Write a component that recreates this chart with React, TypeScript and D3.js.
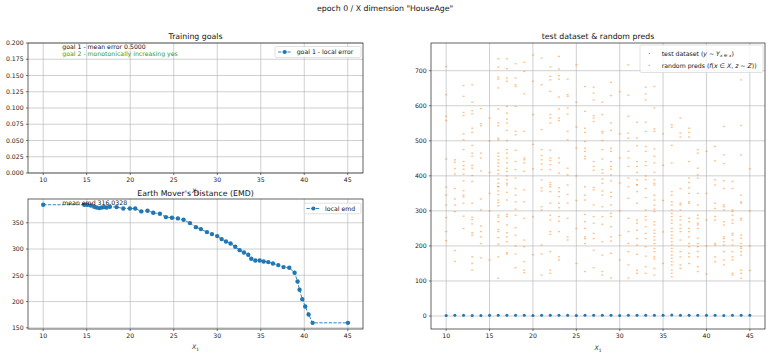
import React from 'react';
import * as d3 from 'd3';

const FONT = "'DejaVu Sans', sans-serif";
const BLUE = '#1f77b4';
const ORANGE = '#ff7f0e';

const xTicks = [10, 15, 20, 25, 30, 35, 40, 45];
const yTicksGoals = [0, 0.025, 0.05, 0.075, 0.1, 0.125, 0.15, 0.175, 0.2];
const yTicksEmd = [150, 200, 250, 300, 350];
const yTicksPreds = [0, 100, 200, 300, 400, 500, 600, 700];

const emdX = [10.0, 14.71, 15.06, 15.48, 15.86, 16.13, 16.44, 16.74, 17.01, 17.28, 17.66, 18.43, 19.2, 19.96, 20.57, 21.26, 21.99, 22.64, 23.41, 24.1, 24.79, 25.48, 26.13, 26.86, 27.55, 28.12, 28.81, 29.39, 30.0, 30.5, 31.0, 31.53, 32.07, 32.57, 33.07, 33.56, 33.91, 34.37, 34.87, 35.33, 35.86, 36.4, 37.01, 37.62, 38.28, 38.89, 39.23, 39.46, 39.77, 40.11, 40.5, 40.96, 45.02];
const emdY = [384.3, 384.3, 384, 383, 380.5, 379.2, 377.9, 379.2, 379.8, 379.2, 380.5, 379.8, 377.3, 377.3, 377.3, 371.6, 372.9, 369, 367.1, 360.8, 359.5, 358.3, 355.7, 349.4, 341.7, 337.9, 332.2, 328.4, 324.6, 318.9, 314.4, 310.6, 304.3, 297.9, 293.5, 289, 281.4, 278.3, 278.3, 276.3, 275.1, 272.5, 269.4, 265.6, 264.3, 254.8, 238.3, 222.4, 204.6, 190.6, 175.4, 159.5, 159.5];

const ages = [10, 11, 12, 13, 14, 15, 16, 17, 18, 19, 20, 21, 22, 23, 24, 25, 26, 27, 28, 29, 30, 31, 32, 33, 34, 35, 36, 37, 38, 39, 40, 41, 42, 43, 44, 45];
const testByAge = [1.8, 2.1, 1.9, 1.6, 1.7, 2.0, 2.2, 1.9, 2.1, 2.3, 1.8, 2.0, 1.9, 2.2, 2.1, 1.7, 2.4, 2.0, 1.9, 2.1, 1.8, 2.3, 2.2, 2.4, 2.5, 2.1, 2.6, 2.0, 2.1, 1.9, 2.4, 2.2, 1.8, 2.0, 2.3, 2.1];
const predsByAge = [
  [712, 632, 570, 558, 448, 368, 345, 317, 281, 241, 215],
  [446, 439, 421, 405, 364, 334, 317, 298, 187, 156],
  [658, 627, 581, 572, 520, 503, 475, 441, 429, 419, 405, 386, 358, 345, 340, 322, 285, 250],
  [660, 610, 586, 577, 536, 524, 487, 465, 456, 430, 422, 401, 384, 322, 282, 275, 263, 238, 231, 169, 150, 131],
  [592, 549, 543, 465, 451, 414, 334, 303, 257, 241, 226, 207, 166],
  [565, 500, 410, 350, 300, 160],
  [734, 710, 682, 676, 651, 591, 551, 543, 508, 503, 465, 456, 446, 437, 427, 416, 406, 391, 379, 370, 369, 357, 347, 331, 324, 315, 288, 282, 269, 247, 241, 224, 205, 169, 108],
  [734, 706, 679, 670, 598, 579, 562, 551, 530, 501, 475, 465, 451, 437, 422, 413, 400, 389, 379, 374, 353, 331, 290, 284, 260, 238, 226, 212, 181, 177],
  [720, 679, 660, 655, 598, 527, 517, 473, 441, 418, 394, 364, 345, 326, 305, 288, 252, 231, 200, 177, 138],
  [724, 698, 634, 527, 451, 446, 437, 413, 360, 326, 279, 217, 198, 155, 131, 124],
  [745, 670, 575, 490, 420, 283, 175],
  [736, 660, 532, 475, 458, 446, 434, 418, 389, 366, 357, 312, 303, 203, 177, 117],
  [711, 684, 674, 641, 575, 565, 551, 473, 451, 444, 432, 418, 381, 375, 369, 355, 322, 288, 274, 241, 233, 184, 131, 122],
  [741, 705, 686, 676, 625, 591, 565, 558, 451, 437, 408, 366, 355, 341, 322, 309, 284, 271, 241, 169, 160],
  [676, 632, 627, 594, 576, 527, 503, 422, 403, 374, 347, 322, 279, 226, 217],
  [717, 610, 540, 480, 400, 330, 250, 150],
  [655, 584, 536, 524, 498, 479, 470, 456, 449, 369, 345, 331, 290, 269, 250, 226, 221, 207, 127],
  [653, 636, 617, 572, 565, 555, 441, 427, 416, 367, 360, 317, 284, 265, 236, 221, 188, 138],
  [610, 575, 527, 522, 501, 475, 448, 418, 408, 391, 379, 357, 345, 312, 284, 262, 212, 174, 127, 117],
  [667, 629, 551, 530, 479, 470, 441, 427, 419, 403, 386, 353, 341, 317, 293, 284, 255, 226, 214, 179, 109],
  [640, 520, 451, 380, 300, 230, 160],
  [717, 630, 570, 522, 507, 470, 451, 427, 394, 369, 336, 279, 241, 207, 184, 146, 109],
  [553, 508, 486, 441, 427, 410, 389, 375, 374, 355, 322, 274, 265, 245, 221, 203, 176, 131, 122],
  [653, 634, 617, 553, 527, 484, 470, 441, 429, 400, 389, 364, 338, 303, 284, 274, 255, 236, 221, 198, 171, 141, 122],
  [655, 594, 534, 527, 477, 456, 437, 410, 389, 379, 374, 345, 331, 317, 305, 298, 269, 260, 245, 236, 226, 217, 207, 193, 184, 169, 163, 136, 117],
  [520, 430, 330, 240, 150],
  [546, 539, 487, 437, 355, 345, 326, 317, 303, 293, 284, 274, 265, 250, 241, 231, 222, 212, 203, 193, 184, 174, 165, 155, 146, 131, 122, 112],
  [565, 522, 511, 364, 322, 317, 303, 284, 274, 260, 250, 241, 217, 184, 169, 146, 136],
  [536, 524, 511, 441, 394, 381, 366, 350, 326, 322, 279, 269, 250, 241, 226, 207, 198, 179, 169, 150],
  [475, 465, 422, 403, 394, 350, 317, 288, 279, 265, 260, 250, 222, 207, 198, 184, 169, 141, 127],
  [470, 350, 274, 200, 120],
  [484, 443, 389, 374, 322, 307, 284, 274, 207, 203, 169, 155],
  [541, 460, 435, 386, 364, 317, 312, 303, 269, 260, 226, 221, 212, 203, 184, 160, 146],
  [384, 364, 303, 298, 288, 274, 265, 236, 231, 217, 203, 184, 169, 160, 122, 117],
  [674, 544, 460, 345, 326, 322, 279, 274, 231, 222, 207, 198, 193, 184, 174, 131, 122, 108],
  [420, 300, 200, 130],
];

const TICK = 6.2;
const TITLE = 7.8;

type AxProps = {
  x0: number; x1: number; y0: number; y1: number;
  xs: d3.ScaleLinear<number, number>; ys: d3.ScaleLinear<number, number>;
  yTicks: number[]; fmt: (v: number) => string; children?: React.ReactNode;
};

function Axes({ x0, x1, y0, y1, xs, ys, yTicks, fmt, children }: AxProps) {
  return (
    <g>
      <rect x={x0} y={y0} width={x1 - x0} height={y1 - y0} fill="#fff" />
      {xTicks.map((t) => (
        <line key={'gx' + t} x1={xs(t)} x2={xs(t)} y1={y0} y2={y1} stroke="#b0b0b0" strokeWidth={0.6} />
      ))}
      {yTicks.map((t) => (
        <line key={'gy' + t} x1={x0} x2={x1} y1={ys(t)} y2={ys(t)} stroke="#b0b0b0" strokeWidth={0.6} />
      ))}
      {children}
      <rect x={x0} y={y0} width={x1 - x0} height={y1 - y0} fill="none" stroke="#222" strokeWidth={0.7} />
      {xTicks.map((t) => (
        <g key={'tx' + t}>
          <line x1={xs(t)} x2={xs(t)} y1={y1} y2={y1 + 2.1} stroke="#222" strokeWidth={0.6} />
          <text x={xs(t)} y={y1 + 9} textAnchor="middle" fontSize={TICK} fill="#222">{t}</text>
        </g>
      ))}
      {yTicks.map((t) => (
        <g key={'ty' + t}>
          <line x1={x0 - 2.1} x2={x0} y1={ys(t)} y2={ys(t)} stroke="#222" strokeWidth={0.6} />
          <text x={x0 - 4.3} y={ys(t)} dy="0.36em" textAnchor="end" fontSize={TICK} fill="#222">{fmt(t)}</text>
        </g>
      ))}
    </g>
  );
}

function XLabel({ x, y }: { x: number; y: number }) {
  return (
    <text x={x} y={y} textAnchor="middle" fontSize={TICK} fill="#222">
      <tspan fontStyle="italic">X</tspan>
      <tspan fontSize={TICK * 0.7} dy={1.5}>1</tspan>
    </text>
  );
}

export default function App() {
  const xsL = d3.scaleLinear().domain([8.25, 46.75]).range([28, 363]);
  const ysTop = d3.scaleLinear().domain([0, 0.2]).range([173, 43]);
  const ysEmd = d3.scaleLinear().domain([147.75, 395.25]).range([329, 199]);
  const xsR = d3.scaleLinear().domain([8.25, 46.75]).range([431, 765]);
  const ysR = d3.scaleLinear().domain([-37, 779]).range([329, 43]);

  const emdPts = emdX.map((x, i) => [x, emdY[i]] as [number, number]);
  const emdLine = d3.line<[number, number]>().x((d) => xsL(d[0])).y((d) => ysEmd(d[1]))(emdPts) || '';

  return (
    <div style={{ position: 'absolute', left: 0, top: 0 }}>
      <svg width={770} height={357} style={{ display: 'block', fontFamily: FONT }}>
        <rect width={770} height={357} fill="#fff" />
        <text x={385} y={11} textAnchor="middle" fontSize={TITLE} fill="#111">epoch 0 / X dimension "HouseAge"</text>

        {/* Training goals */}
        <text x={195.5} y={38.5} textAnchor="middle" fontSize={TITLE} fill="#111">Training goals</text>
        <Axes x0={28} x1={363} y0={43} y1={173} xs={xsL} ys={ysTop} yTicks={yTicksGoals} fmt={d3.format('.3f')}>
          <text x={62.3} y={49.2} fontSize={TICK} fill="#111">goal 1 - mean error 0.5000</text>
          <text x={62.3} y={55.6} fontSize={TICK} fill="#2ca02c">goal 2 - monotonically increasing yes</text>
          <rect x={275} y={46.5} width={86} height={11} rx={1.5} fill="#fff" fillOpacity={0.8} stroke="#ccc" strokeWidth={0.6} />
          <line x1={278} x2={291.5} y1={52} y2={52} stroke={BLUE} strokeWidth={0.9} strokeDasharray="3.3 1.4" />
          <circle cx={284.7} cy={52} r={2.1} fill={BLUE} />
          <text x={296.7} y={54.2} fontSize={TICK} fill="#111">goal 1 - local error</text>
        </Axes>
        <XLabel x={195.5} y={193} />

        {/* EMD */}
        <text x={195.5} y={195.5} textAnchor="middle" fontSize={TITLE} fill="#111">Earth Mover's Distance (EMD)</text>
        <Axes x0={28} x1={363} y0={199} y1={329} xs={xsL} ys={ysEmd} yTicks={yTicksEmd} fmt={d3.format('d')}>
          <path d={emdLine} fill="none" stroke={BLUE} strokeWidth={0.9} strokeDasharray="3.3 1.4" />
          {emdPts.map((d, i) => (
            <circle key={i} cx={xsL(d[0])} cy={ysEmd(d[1])} r={2.2} fill={BLUE} />
          ))}
          <text x={62.3} y={205} fontSize={TICK} fill="#111">mean emd 316.0328</text>
          <rect x={304.3} y={203.2} width={56.7} height={10.5} rx={1.5} fill="#fff" fillOpacity={0.8} stroke="#ccc" strokeWidth={0.6} />
          <line x1={306.5} x2={320.5} y1={208.5} y2={208.5} stroke={BLUE} strokeWidth={0.9} strokeDasharray="3.3 1.4" />
          <circle cx={313.4} cy={208.5} r={2.1} fill={BLUE} />
          <text x={325} y={210.7} fontSize={TICK} fill="#111">local emd</text>
        </Axes>
        <XLabel x={195.5} y={349} />

        {/* Scatter */}
        <text x={598} y={38.5} textAnchor="middle" fontSize={TITLE} fill="#111">test dataset &amp; random preds</text>
        <Axes x0={431} x1={765} y0={43} y1={329} xs={xsR} ys={ysR} yTicks={yTicksPreds} fmt={d3.format('d')}>
          {ages.map((a, i) =>
            predsByAge[i].map((v, j) => (
              <rect key={a + '-' + j} x={xsR(a) - 1} y={ysR(v) - 0.6} width={2} height={1.3} fill={ORANGE} fillOpacity={0.5} />
            ))
          )}
          {ages.map((a, i) => (
            <circle key={'t' + a} cx={xsR(a)} cy={ysR(testByAge[i])} r={1.5} fill={BLUE} />
          ))}
          <rect x={640} y={45} width={123} height={27.5} rx={1.5} fill="#fff" fillOpacity={0.8} stroke="#ccc" strokeWidth={0.6} />
          <circle cx={649.3} cy={53.5} r={0.6} fill={BLUE} />
          <rect x={648.5} y={64.8} width={1.4} height={1.2} fill={ORANGE} fillOpacity={0.7} />
          <text x={661.7} y={55.6} fontSize={TICK} fill="#111">
            test dataset (<tspan fontStyle="italic">y</tspan> ~ <tspan fontStyle="italic">Y</tspan>
            <tspan fontStyle="italic" fontSize={TICK * 0.7} dy={1.3}>x ∈ x</tspan>
            <tspan dy={-1.3}>)</tspan>
          </text>
          <text x={661.7} y={67.6} fontSize={TICK} fill="#111">
            random preds (<tspan fontStyle="italic">f</tspan>(<tspan fontStyle="italic">x</tspan> ∈ <tspan fontStyle="italic">X</tspan>, <tspan fontStyle="italic">z</tspan> ~ <tspan fontStyle="italic">Z</tspan>))
          </text>
        </Axes>
        <XLabel x={598} y={350} />
      </svg>
    </div>
  );
}
